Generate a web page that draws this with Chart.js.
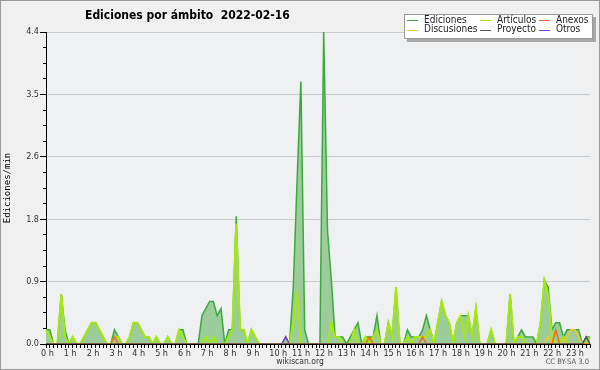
<!DOCTYPE html>
<html>
<head>
<meta charset="utf-8">
<title>Ediciones por ámbito 2022-02-16</title>
<script src="https://cdn.jsdelivr.net/npm/chart.js@4.4.1/dist/chart.umd.min.js"></script>
<style>
  html, body { margin: 0; padding: 0; background: #f0f0f0; }
  canvas { display: block; }
</style>
</head>
<body>
<canvas id="chart" width="600" height="370"></canvas>
<script>
// one slot every 10 minutes, values in edits per minute
const slots = [];
for (let h = 0; h < 24; h++) {
  for (let m = 0; m < 60; m += 10) {
    slots.push(String(h).padStart(2, '0') + ':' + String(m).padStart(2, '0'));
  }
}

const hourLabels = ['0 h', '1 h', '2 h', '3 h', '4 h', '5 h', '6 h', '7 h', '8 h', '9 h', '10 h', '11 h',
  '12 h', '13 h', '14 h', '15 h', '16 h', '17 h', '18 h', '19 h', '20 h', '21 h', '22 h', '23 h'];

const yTicks = [0, 0.88, 1.76, 2.64, 3.52, 4.4];
const yMinorTicks = [0, 0.22, 0.44, 0.66, 0.88, 1.1, 1.32, 1.54, 1.76, 1.98, 2.2,
  2.42, 2.64, 2.86, 3.08, 3.3, 3.52, 3.74, 3.96, 4.18, 4.4];

const ediciones = [
  0.2, 0.2, 0, 0, 0.7, 0.2,
  0, 0.1, 0, 0, 0.1, 0.2,
  0.3, 0.3, 0.2, 0.1, 0, 0,
  0.2, 0.1, 0, 0, 0.1, 0.3,
  0.3, 0.2, 0.1, 0.1, 0, 0.1,
  0, 0, 0.1, 0, 0, 0.2,
  0.2, 0, 0, 0, 0, 0.4,
  0.5, 0.6, 0.6, 0.4, 0.5, 0,
  0.2, 0.2, 1.8, 0.2, 0.2, 0,
  0.2, 0.1, 0, 0, 0, 0,
  0, 0, 0, 0.1, 0, 0.8,
  2.3, 3.7, 0.2, 0, 0, 0,
  0, 4.4, 1.6, 0.9, 0.1, 0.1,
  0.1, 0, 0.1, 0.2, 0.3, 0,
  0.1, 0.1, 0.1, 0.4, 0, 0,
  0.3, 0.1, 0.8, 0, 0, 0.2,
  0.1, 0.1, 0.1, 0.2, 0.4, 0.2,
  0, 0.3, 0.6, 0.4, 0.3, 0,
  0.3, 0.4, 0.4, 0.4, 0.1, 0.5,
  0, 0, 0, 0.2, 0, 0,
  0, 0, 0.7, 0, 0.1, 0.2,
  0.1, 0.1, 0.1, 0, 0.3, 0.9,
  0.8, 0.2, 0.3, 0.3, 0.1, 0.2,
  0.2, 0.2, 0.2, 0, 0.1, 0.1
];

const articulos = [
  0.2, 0.1, 0, 0, 0.7, 0.1,
  0, 0.1, 0, 0, 0.1, 0.2,
  0.3, 0.3, 0.2, 0.1, 0, 0,
  0.1, 0.1, 0, 0, 0.1, 0.3,
  0.3, 0.2, 0.1, 0.1, 0, 0.1,
  0, 0, 0.1, 0, 0, 0.2,
  0.1, 0, 0, 0, 0, 0,
  0.1, 0, 0.1, 0, 0, 0,
  0.1, 0.2, 1.7, 0.2, 0.2, 0,
  0.2, 0.1, 0, 0, 0, 0,
  0, 0, 0, 0, 0, 0.3,
  0.7, 0, 0, 0, 0, 0,
  0, 0, 0, 0.3, 0.1, 0.1,
  0, 0, 0, 0.2, 0, 0,
  0.1, 0, 0.1, 0.2, 0, 0,
  0.3, 0.1, 0.8, 0, 0, 0.1,
  0, 0.1, 0.1, 0.1, 0.1, 0.2,
  0, 0.3, 0.6, 0.4, 0.3, 0,
  0.3, 0.4, 0.1, 0.4, 0.1, 0.5,
  0, 0, 0, 0.2, 0, 0,
  0, 0, 0.7, 0, 0.1, 0.1,
  0, 0, 0, 0, 0.3, 0.9,
  0.7, 0.1, 0, 0, 0.1, 0,
  0, 0, 0, 0, 0, 0.1
];

const anexos = [
  0, 0, 0, 0, 0, 0,
  0, 0, 0, 0, 0, 0,
  0, 0, 0, 0, 0, 0,
  0.1, 0, 0, 0, 0, 0,
  0, 0, 0, 0, 0, 0,
  0, 0, 0, 0, 0, 0,
  0, 0, 0, 0, 0, 0,
  0, 0, 0, 0, 0, 0,
  0, 0, 0, 0, 0, 0,
  0, 0, 0, 0, 0, 0,
  0, 0, 0, 0, 0, 0,
  0, 0, 0, 0, 0, 0,
  0, 0, 0, 0, 0, 0,
  0, 0, 0, 0, 0, 0,
  0, 0.1, 0, 0, 0, 0,
  0, 0, 0, 0, 0, 0,
  0, 0, 0, 0.1, 0, 0,
  0, 0, 0, 0, 0, 0,
  0, 0, 0, 0, 0, 0,
  0, 0, 0, 0, 0, 0,
  0, 0, 0, 0, 0, 0,
  0, 0, 0, 0, 0, 0,
  0, 0, 0.2, 0, 0, 0,
  0, 0, 0, 0, 0, 0
];

const discusiones = [
  0, 0, 0, 0, 0, 0,
  0, 0, 0, 0, 0, 0,
  0, 0, 0, 0, 0, 0,
  0, 0, 0, 0, 0, 0,
  0, 0, 0, 0, 0, 0,
  0, 0, 0, 0, 0, 0,
  0, 0, 0, 0, 0, 0,
  0, 0, 0, 0, 0, 0,
  0, 0, 0, 0, 0, 0,
  0, 0, 0, 0, 0, 0,
  0, 0, 0, 0, 0, 0,
  0, 0, 0, 0, 0, 0,
  0, 0, 0, 0, 0, 0,
  0, 0, 0, 0, 0, 0,
  0, 0, 0, 0, 0, 0,
  0, 0, 0, 0, 0, 0,
  0, 0, 0, 0, 0, 0,
  0, 0, 0, 0, 0, 0,
  0, 0, 0, 0, 0, 0,
  0, 0, 0, 0, 0, 0,
  0, 0, 0, 0, 0, 0,
  0, 0, 0, 0, 0, 0,
  0.1, 0, 0, 0, 0, 0.1,
  0.2, 0.2, 0.1, 0, 0, 0
];

const proyecto = [
  0, 0, 0, 0, 0, 0,
  0, 0, 0, 0, 0, 0,
  0, 0, 0, 0, 0, 0,
  0, 0, 0, 0, 0, 0,
  0, 0, 0, 0, 0, 0,
  0, 0, 0, 0, 0, 0,
  0, 0, 0, 0, 0, 0,
  0, 0, 0, 0, 0, 0,
  0, 0, 0, 0, 0, 0,
  0, 0, 0, 0, 0, 0,
  0, 0, 0, 0, 0, 0,
  0, 0, 0, 0, 0, 0,
  0, 0, 0, 0, 0, 0,
  0, 0, 0, 0, 0, 0,
  0, 0, 0, 0, 0, 0,
  0, 0, 0, 0, 0, 0,
  0, 0, 0, 0, 0, 0,
  0, 0, 0, 0, 0, 0,
  0, 0, 0, 0, 0, 0,
  0, 0, 0, 0, 0, 0,
  0, 0, 0, 0, 0, 0,
  0, 0, 0, 0, 0, 0,
  0, 0, 0, 0, 0, 0,
  0, 0, 0, 0, 0.1, 0
];

const otros = [
  0, 0, 0, 0, 0, 0,
  0, 0, 0, 0, 0, 0,
  0, 0, 0, 0, 0, 0,
  0, 0, 0, 0, 0, 0,
  0, 0, 0, 0, 0, 0,
  0, 0, 0, 0, 0, 0,
  0, 0, 0, 0, 0, 0,
  0, 0, 0, 0, 0, 0,
  0, 0, 0, 0, 0, 0,
  0, 0, 0, 0, 0, 0,
  0, 0, 0, 0.1, 0, 0,
  0, 0, 0, 0, 0, 0,
  0, 0, 0, 0, 0, 0,
  0, 0, 0, 0, 0, 0,
  0, 0, 0, 0, 0, 0,
  0, 0, 0, 0, 0, 0,
  0, 0, 0, 0, 0, 0,
  0, 0, 0, 0, 0, 0,
  0, 0, 0, 0, 0, 0,
  0, 0, 0, 0, 0, 0,
  0, 0, 0, 0, 0, 0,
  0, 0, 0, 0, 0, 0,
  0, 0, 0, 0, 0, 0,
  0, 0, 0, 0, 0, 0
];

const FONT = '"DejaVu Sans Condensed", "DejaVu Sans", sans-serif';

function line(label, data, color, width, order, fill) {
  return {
    label: label,
    data: data,
    borderColor: color,
    backgroundColor: fill || color,
    borderWidth: width,
    fill: fill ? 'origin' : false,
    pointRadius: 0,
    tension: 0,
    order: order,
  };
}

// background, frame, title, footer and the boxed legend
const decor = {
  id: 'decor',
  beforeDraw(chart) {
    const { ctx, chartArea: a } = chart;
    ctx.save();
    ctx.fillStyle = '#f0f0f0';
    ctx.fillRect(0, 0, chart.width, chart.height);
    ctx.strokeStyle = '#9a9a9a';
    ctx.lineWidth = 1;
    ctx.strokeRect(0.5, 0.5, chart.width - 1, chart.height - 1);
    ctx.fillStyle = '#eef0f2';
    ctx.fillRect(a.left, a.top, a.right - a.left, a.bottom - a.top);
    ctx.restore();
  },
  afterDraw(chart) {
    const ctx = chart.ctx;
    ctx.save();
    ctx.fillStyle = '#000';
    ctx.font = 'bold 12px ' + FONT;
    ctx.textBaseline = 'alphabetic';
    ctx.textAlign = 'left';
    ctx.fillText('Ediciones por ámbito  2022-02-16', 85, 19);

    ctx.fillStyle = '#333';
    ctx.font = '8.5px ' + FONT;
    ctx.textAlign = 'center';
    ctx.fillText('wikiscan.org', 300, 364);
    ctx.fillStyle = '#555';
    ctx.font = '7.5px ' + FONT;
    ctx.textAlign = 'right';
    ctx.fillText('CC BY-SA 3.0', 589, 364);

    // legend box
    ctx.fillStyle = '#a8a8a8';
    ctx.fillRect(407, 17, 189, 25);
    ctx.fillStyle = '#fff';
    ctx.fillRect(404, 14, 189, 25);
    ctx.strokeStyle = '#999';
    ctx.strokeRect(404.5, 14.5, 188, 24);

    const colX = [407, 480, 539];
    const rowY = [20, 29.5];
    ctx.font = '10px ' + FONT;
    ctx.textAlign = 'left';
    ctx.textBaseline = 'middle';
    chart.data.datasets.forEach((ds, i) => {
      const x = colX[i % 3];
      const y = rowY[Math.floor(i / 3)];
      ctx.strokeStyle = ds.borderColor;
      ctx.lineWidth = 1;
      ctx.beginPath();
      ctx.moveTo(x, Math.round(y) + 0.5);
      ctx.lineTo(x + 11, Math.round(y) + 0.5);
      ctx.stroke();
      ctx.fillStyle = '#222';
      ctx.fillText(ds.label, x + 17, y);
    });
    ctx.restore();
  },
};

const config = {
  type: 'line',
  data: {
    labels: slots,
    datasets: [
      line('Ediciones', ediciones, '#3aaa3a', 1.5, 6, '#9ccc9c'),
      line('Artículos', articulos, '#a6e812', 2, 5),
      line('Anexos', anexos, '#f26b22', 1.5, 2),
      line('Discusiones', discusiones, '#f5c423', 1.5, 3),
      line('Proyecto', proyecto, '#555555', 1.5, 1),
      line('Otros', otros, '#7a3ee0', 1.5, 4),
    ],
  },
  options: {
    responsive: false,
    animation: false,
    layout: {
      padding: { left: 0, right: 10, top: 32, bottom: 0 },
    },
    plugins: {
      legend: { display: false },
      title: { display: false },
      tooltip: { enabled: false },
    },
    scales: {
      x: {
        type: 'category',
        offset: false,
        z: 1,
        afterFit: (s) => { s.height = 26; },
        grid: {
          drawOnChartArea: false,
          offset: false,
          tickLength: 4,
          tickColor: '#000',
        },
        border: { color: '#000' },
        ticks: {
          autoSkip: false,
          maxRotation: 0,
          align: 'start',
          labelOffset: -5,
          padding: 0,
          color: '#333',
          font: { family: FONT, size: 9 },
          callback: (v, i) => (i % 6 === 0 ? hourLabels[i / 6] : ''),
        },
      },
      y: {
        min: 0,
        max: 4.4,
        weight: 1,
        afterBuildTicks: (s) => { s.ticks = yTicks.map((v) => ({ value: v })); },
        afterFit: (s) => { s.width = 46; },
        grid: {
          color: '#cccccc',
          tickColor: '#000',
          tickLength: 6,
        },
        border: { color: '#000' },
        ticks: {
          padding: 1,
          color: '#333',
          font: { family: FONT, size: 9 },
          callback: (v) => v.toFixed(1),
        },
        title: {
          display: true,
          text: 'Ediciones/min',
          color: '#000',
          font: { family: '"DejaVu Sans Mono", monospace', size: 9 },
          padding: { top: 2, bottom: 0 },
        },
      },
      yMinor: {
        type: 'linear',
        position: 'left',
        min: 0,
        max: 4.4,
        weight: 0,
        afterBuildTicks: (s) => { s.ticks = yMinorTicks.map((v) => ({ value: v })); },
        afterFit: (s) => { s.width = 0; },
        grid: {
          drawOnChartArea: false,
          tickLength: 3,
          tickColor: '#000',
        },
        border: { display: false },
        ticks: { display: false },
      },
    },
  },
  plugins: [decor],
};

new Chart(document.getElementById('chart'), config);
</script>
</body>
</html>
